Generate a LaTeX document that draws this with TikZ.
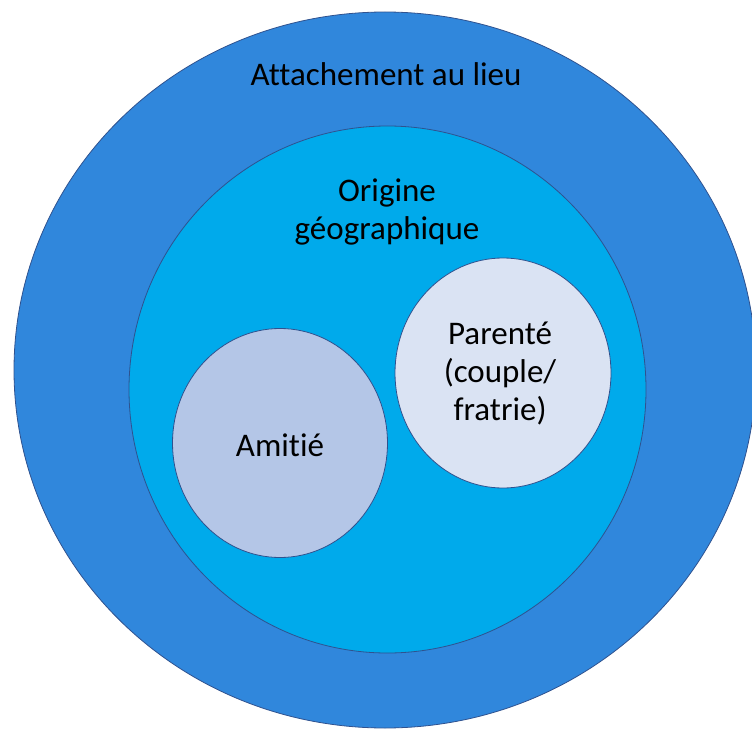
\documentclass[tikz,border=0pt]{standalone}
\usepackage{fontspec}
\setmainfont{Carlito}[Ligatures=NoCommon]
\usetikzlibrary{shapes.geometric}
\definecolor{lieublue}{RGB}{48,135,220}
\definecolor{origineblue}{RGB}{0,170,235}
\definecolor{amitieblue}{RGB}{180,198,231}
\definecolor{parenteblue}{RGB}{218,227,243}
\definecolor{edgeblue}{RGB}{47,82,143}

\begin{document}
\begin{tikzpicture}[x=1pt,y=-1pt,
    bubble/.style={ellipse, draw=edgeblue, line width=0.8pt, inner sep=0pt},
    txt/.style={font=\fontsize{33}{38}\selectfont, align=center}]
        \useasboundingbox (0,0) rectangle (752,730);
        % circles, from outside in
        \node[bubble, fill=lieublue, minimum width=742pt, minimum height=716pt] (lieu) at (385,370) {};
        \node[bubble, fill=origineblue, minimum width=517pt, minimum height=527pt] (origine) at (387.5,389.5) {};
        \node[bubble, fill=amitieblue, minimum width=215pt, minimum height=229pt] (amitie) at (280,443) {};
        \node[bubble, fill=parenteblue, minimum width=216pt, minimum height=230pt] (parente) at (503,373) {};
        % labels
        \node[txt] (lieutxt) at (386,74) {Attachement au lieu};
        \node[txt] (originetxt) at (387,212) {Origine\\géographique};
        \node[txt] (amitietxt) at (280,445) {Amitié};
        \node[txt] (parentetxt) at (500,374) {Parenté\\(couple/\\fratrie)};
    \end{tikzpicture}
\end{document}
